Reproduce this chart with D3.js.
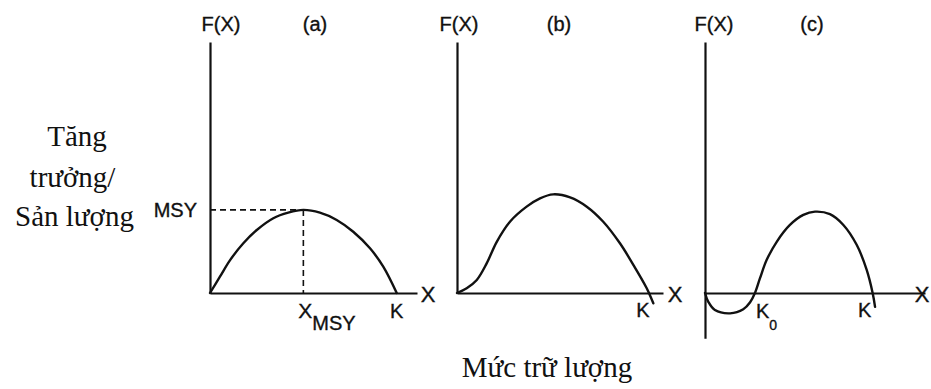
<!DOCTYPE html>
<html>
<head>
<meta charset="utf-8">
<script src="https://cdn.jsdelivr.net/npm/d3@7"></script>
<style>
  html, body { margin: 0; padding: 0; background: #fff; }
  svg { display: block; }
  .sans { font-family: "Liberation Sans", Arial, sans-serif; fill: #111; stroke: #111; stroke-width: 0.35; }
  .serif { font-family: "Liberation Serif", "Times New Roman", serif; fill: #111; }
</style>
</head>
<body>
<svg id="chart" width="931" height="389"></svg>
<script>
// Panel titles and shared labels
const panelTitles = ["(a)", "(b)", "(c)"];
const yAxisLabel = "F(X)";
const xAxisLabel = "X";
const leftTitleLines = ["Tăng", "trưởng/", "Sản lượng"];
const bottomTitle = "Mức trữ lượng";

// (a) logistic growth: stock X vs growth F(X)
const stockA = [0, 4.8, 9.7, 16.1, 22.6, 30.6, 37.8, 45.1, 53.1, 61.2, 69.2, 77.3, 83.7, 90.2];
const growthA = [0, 6.5, 13.1, 19.8, 25.1, 29.8, 32.0, 33.1, 32.0, 29.1, 24.4, 17.8, 10.5, 0];
const xMSY = 45.1;
const MSY = 33.1;
const kA = 90.2;

// (b) depensation
const stockB = [0, 4.7, 9.6, 14.4, 19.3, 25.7, 33.8, 40.3, 46.7, 54.9, 63.0, 71.0, 79.1, 85.6, 92.1, 93.2, 95.3];
const growthB = [0, 1.9, 5.2, 11.8, 20.4, 28.4, 34.4, 37.7, 39.3, 38.1, 34.4, 28.4, 19.8, 11.2, 1.9, 0, -4.1];
const kB = 93.2;

// (c) critical depensation, minimum viable stock K0
const stockC = [0, 1.5, 4.5, 11.4, 17.4, 20.5, 22.7, 25.0, 28.0, 32.6, 38.6, 44.7, 50.0, 56.8, 62.9, 69.0, 73.5, 76.2, 77.3];
const growthC = [0, -3.5, -6.8, -8.1, -6.5, -3.7, 0, 5.9, 13.1, 20.4, 27.1, 31.1, 32.4, 31.4, 27.1, 19.1, 9.2, 0, -5.5];
const k0C = 22.7;
const kC = 76.2;

const svg = d3.select("#chart");
const ink = "#111";

// Shared vertical scale for all three panels
const y = d3.scaleLinear().domain([0, 100]).range([293, 42]);

const panels = [
  { title: panelTitles[0], x0: 210, x1: 417, yMin: 0, stock: stockA, growth: growthA,
    titleX: 315, fxX: 221, xLabX: 428 },
  { title: panelTitles[1], x0: 457, x1: 663, yMin: 0, stock: stockB, growth: growthB,
    titleX: 559, fxX: 459, xLabX: 675 },
  { title: panelTitles[2], x0: 705, x1: 925, yMin: -18, stock: stockC, growth: growthC,
    titleX: 812, fxX: 714, xLabX: 922 }
];

panels.forEach(p => {
  const x = d3.scaleLinear().domain([0, 100]).range([p.x0, p.x1]);
  p.x = x;
  const g = svg.append("g");

  // Horizontal axis (no ticks)
  g.append("g")
    .attr("transform", `translate(0,${y(0)})`)
    .call(d3.axisBottom(x).tickValues([]).tickSizeOuter(0))
    .call(a => a.select(".domain").attr("stroke", ink).attr("stroke-width", 2.2));

  // Vertical axis (no ticks)
  const yAxisScale = y.copy().domain([p.yMin, 100]).range([y(p.yMin), y(100)]);
  g.append("g")
    .attr("transform", `translate(${x(0)},0)`)
    .call(d3.axisLeft(yAxisScale).tickValues([]).tickSizeOuter(0))
    .call(a => a.select(".domain").attr("stroke", ink).attr("stroke-width", 2.2));

  // Growth curve
  const pts = p.stock.map((s, i) => [s, p.growth[i]]);
  g.append("path")
    .datum(pts)
    .attr("fill", "none")
    .attr("stroke", ink)
    .attr("stroke-width", 2.4)
    .attr("stroke-linecap", "round")
    .attr("stroke-linejoin", "round")
    .attr("d", d3.line().x(d => x(d[0])).y(d => y(d[1])).curve(d3.curveCatmullRom.alpha(0.5)));

  // Titles
  g.append("text").attr("class", "sans").attr("x", p.fxX).attr("y", 31)
    .attr("text-anchor", "middle").attr("font-size", 20).text(yAxisLabel);
  g.append("text").attr("class", "sans").attr("x", p.titleX).attr("y", 31)
    .attr("text-anchor", "middle").attr("font-size", 20).text(p.title);
  g.append("text").attr("class", "sans").attr("x", p.xLabX).attr("y", 302)
    .attr("text-anchor", "middle").attr("font-size", 22).text(xAxisLabel);
});

// Panel (a): MSY guides
const pa = panels[0];
svg.append("path")
  .attr("fill", "none").attr("stroke", ink).attr("stroke-width", 1.6)
  .attr("stroke-dasharray", "6,4")
  .attr("d", `M${pa.x(0)},${y(MSY)}H${pa.x(xMSY)}`);
svg.append("path")
  .attr("fill", "none").attr("stroke", ink).attr("stroke-width", 1.6)
  .attr("stroke-dasharray", "6,4")
  .attr("d", `M${pa.x(xMSY)},${y(MSY)}V${y(0)}`);
svg.append("text").attr("class", "sans").attr("x", pa.x(0) - 13).attr("y", y(MSY) + 7)
  .attr("text-anchor", "end").attr("font-size", 20).text("MSY");
const xmsyLabel = svg.append("text").attr("class", "sans")
  .attr("x", pa.x(xMSY) - 5).attr("y", 318).attr("font-size", 21);
xmsyLabel.append("tspan").text("X");
xmsyLabel.append("tspan").attr("dy", 12).attr("font-size", 20).text("MSY");
svg.append("text").attr("class", "sans").attr("x", pa.x(kA)).attr("y", 318)
  .attr("text-anchor", "middle").attr("font-size", 20).text("K");

// Panel (b): carrying capacity
const pb = panels[1];
svg.append("text").attr("class", "sans").attr("x", pb.x(kB) - 6).attr("y", 317)
  .attr("text-anchor", "middle").attr("font-size", 20).text("K");

// Panel (c): K0 and K
const pc = panels[2];
const k0Label = svg.append("text").attr("class", "sans")
  .attr("x", pc.x(k0C) + 1).attr("y", 318).attr("font-size", 20);
k0Label.append("tspan").text("K");
k0Label.append("tspan").attr("dy", 12).attr("font-size", 14).text("0");
svg.append("text").attr("class", "sans").attr("x", pc.x(kC) - 8).attr("y", 317)
  .attr("text-anchor", "middle").attr("font-size", 20).text("K");

// Outer titles
const leftCenters = [77, 72.5, 74.5];
const leftBaselines = [146, 187, 226];
leftTitleLines.forEach((t, i) => {
  svg.append("text").attr("class", "serif").attr("x", leftCenters[i]).attr("y", leftBaselines[i])
    .attr("text-anchor", "middle").attr("font-size", 29).text(t);
});
svg.append("text").attr("class", "serif").attr("x", 547).attr("y", 377)
  .attr("text-anchor", "middle").attr("font-size", 29).text(bottomTitle);
</script>
</body>
</html>
